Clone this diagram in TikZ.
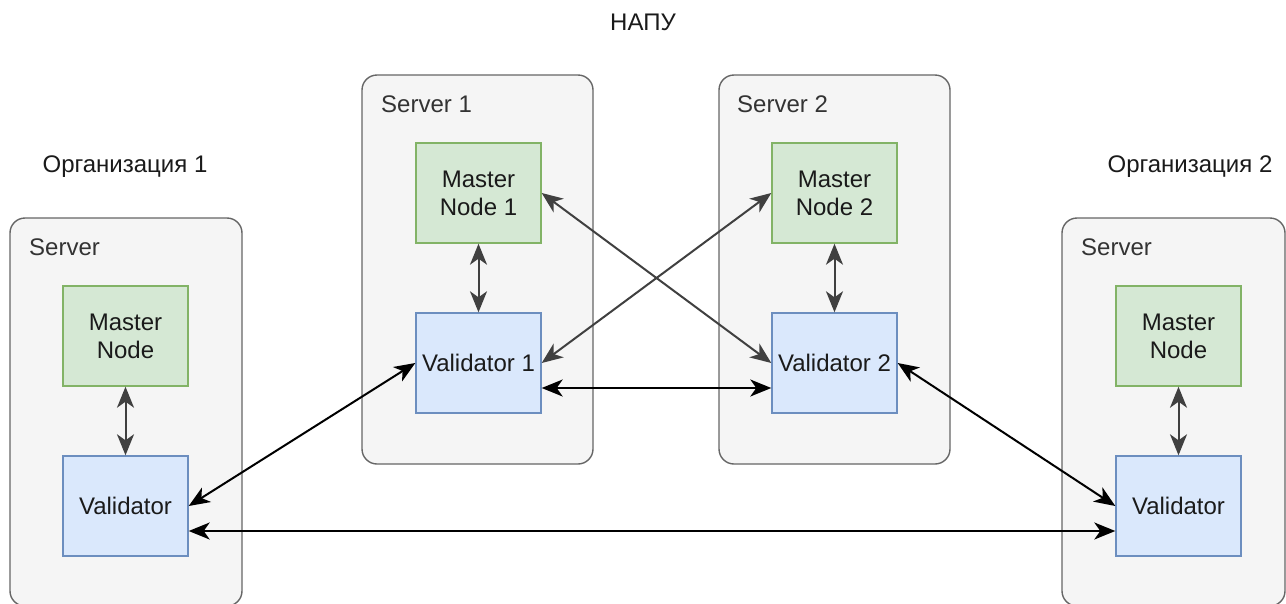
\documentclass[tikz,border=0pt]{standalone}
\usepackage{fontspec}
\setmainfont{Liberation Sans}
\usetikzlibrary{arrows.meta}
\definecolor{contfill}{HTML}{F5F5F5}
\definecolor{contline}{HTML}{666666}
\definecolor{gfill}{HTML}{D5E8D4}
\definecolor{gline}{HTML}{82B366}
\definecolor{bfill}{HTML}{DAE8FC}
\definecolor{bline}{HTML}{6C8EBF}
\definecolor{txt}{HTML}{1A1A1A}
\definecolor{lbl}{HTML}{333333}
\definecolor{garrow}{HTML}{404040}
\tikzset{
  tipx/.tip={Stealth[length=21pt,width=17pt,inset=6pt]}
}
\begin{document}
\begin{tikzpicture}[x=1pt,y=-1pt,
  every node/.style={font=\fontsize{24}{28}\selectfont, text=txt},
  container/.style={draw=contline, fill=contfill, line width=1.4pt, rounded corners=15pt},
  mnode/.style={draw=gline, fill=gfill, line width=1.4pt, minimum width=125pt, minimum height=100pt, inner sep=0pt, align=center},
  vnode/.style={draw=bline, fill=bfill, line width=1.4pt, minimum width=125pt, minimum height=100pt, inner sep=0pt, align=center},
  lab/.style={anchor=west, text=lbl, inner sep=0pt},
  link/.style={line width=2pt, tipx-tipx},
  glink/.style={link, draw=garrow},
  blink/.style={link, draw=black}
]
\useasboundingbox (0,0) rectangle (1286,603);
% containers
\draw[container] (10,218) rectangle (242,606);
\draw[container] (362,75) rectangle (593,464);
\draw[container] (719,75) rectangle (950,464);
\draw[container] (1062,218) rectangle (1285,606);
% labels
\node[text=txt] (napu) at (643,22) {НАПУ};
\node[text=txt] (org1) at (125,167) {Организация 1};
\node[text=txt] (org2) at (1190,167) {Организация 2};
\node[lab] (s0) at (29,247) {Server};
\node[lab] (s1) at (381,104) {Server 1};
\node[lab] (s2) at (737,104) {Server 2};
\node[lab] (s3) at (1081,247) {Server};
% nodes
\node[mnode] (mn1) at (478.5,193) {Master\\Node 1};
\node[vnode] (v1) at (478.5,363) {Validator 1};
\node[mnode] (mn2) at (834.5,193) {Master\\Node 2};
\node[vnode] (v2) at (834.5,363) {Validator 2};
\node[mnode] (mnl) at (125.5,336) {Master\\Node};
\node[vnode] (vl) at (125.5,506) {Validator};
\node[mnode] (mnr) at (1178.5,336) {Master\\Node};
\node[vnode] (vr) at (1178.5,506) {Validator};
% links
\draw[glink] (mn1.south) -- (v1.north);
\draw[glink] (mn2.south) -- (v2.north);
\draw[glink] (mnl.south) -- (vl.north);
\draw[glink] (mnr.south) -- (vr.north);
\draw[glink] (mn1.east) -- (v2.west);
\draw[glink] (v1.east) -- (mn2.west);
\draw[blink] ([yshift=-25pt]v1.east) -- ([yshift=-25pt]v2.west);
\draw[blink] (vl.east) -- (v1.west);
\draw[blink] (v2.east) -- (vr.west);
\draw[blink] ([yshift=-25pt]vl.east) -- ([yshift=-25pt]vr.west);
\end{tikzpicture}
\end{document}
